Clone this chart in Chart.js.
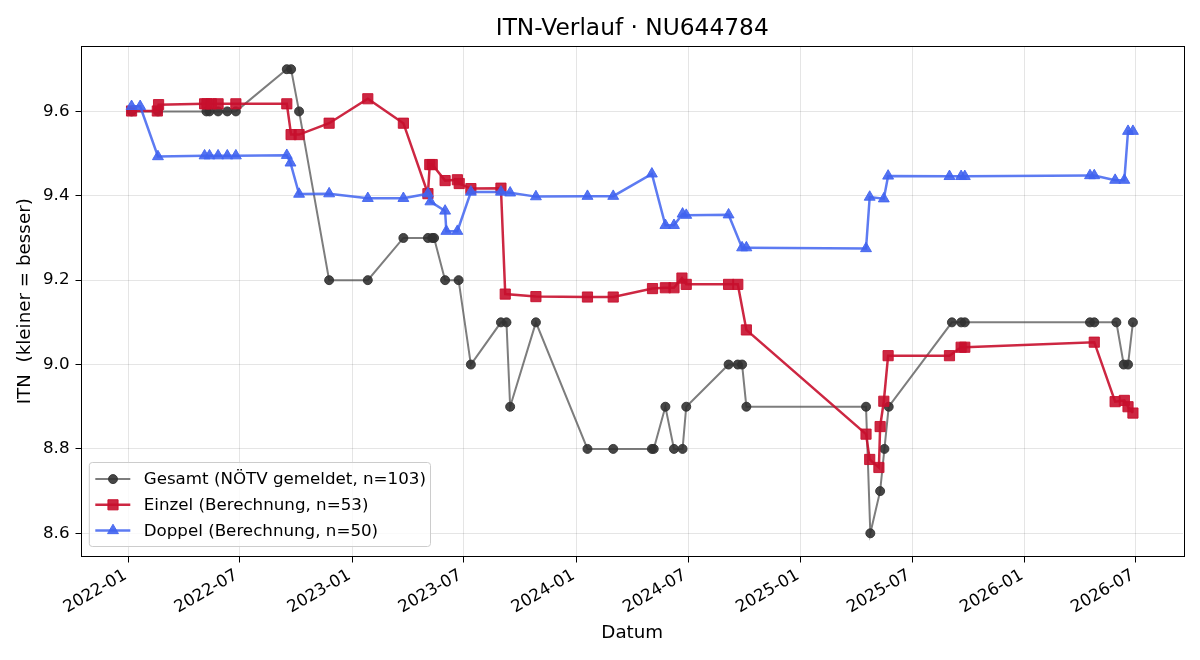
<!DOCTYPE html>
<html>
<head>
<meta charset="utf-8">
<title>ITN-Verlauf</title>
<script src="https://cdn.jsdelivr.net/npm/chart.js@4.4.1/dist/chart.umd.min.js"></script>
<style>
  html, body { margin: 0; padding: 0; background: #fff; }
  #wrap { width: 1200px; height: 660px; }
</style>
</head>
<body>
<div id="wrap"><canvas id="itnChart" width="1200" height="660"></canvas></div>
<script>
const chartTitle = "ITN-Verlauf · NU644784"
const xAxisLabel = "Datum"
const yAxisLabel = "ITN  (kleiner = besser)"
const xTickLabels = ["2022-01", "2022-07", "2023-01", "2023-07", "2024-01", "2024-07", "2025-01", "2025-07", "2026-01", "2026-07"]
const yTicks = [8.6, 8.8, 9.0, 9.2, 9.4, 9.6]

const seriesLabels = ["Gesamt (NÖTV gemeldet, n=103)", "Einzel (Berechnung, n=53)", "Doppel (Berechnung, n=50)"]

const gesamtDates = [
  "2022-01-06", "2022-02-18", "2022-05-08", "2022-05-13", "2022-05-27", "2022-06-11", "2022-06-25",
  "2022-09-16", "2022-09-23", "2022-10-06", "2022-11-24", "2023-01-26", "2023-03-25", "2023-05-04",
  "2023-05-11", "2023-05-14", "2023-06-01", "2023-06-23", "2023-07-13", "2023-08-31", "2023-09-09",
  "2023-09-15", "2023-10-27", "2024-01-19", "2024-03-01", "2024-05-03", "2024-05-06", "2024-05-25",
  "2024-06-08", "2024-06-22", "2024-06-28", "2024-09-05", "2024-09-20", "2024-09-27", "2024-10-04",
  "2025-04-17", "2025-04-24", "2025-05-10", "2025-05-17", "2025-05-24", "2025-09-04", "2025-09-19",
  "2025-09-25", "2026-04-17", "2026-04-24", "2026-05-30", "2026-06-11", "2026-06-18", "2026-06-26"
]
const gesamtValues = [
  9.6, 9.6, 9.6, 9.6, 9.6, 9.6, 9.6,
  9.7, 9.7, 9.6, 9.2, 9.2, 9.3, 9.3,
  9.3, 9.3, 9.2, 9.2, 9.0, 9.1, 9.1,
  8.9, 9.1, 8.8, 8.8, 8.8, 8.8, 8.9,
  8.8, 8.8, 8.9, 9.0, 9.0, 9.0, 8.9,
  8.9, 8.6, 8.7, 8.8, 8.9, 9.1, 9.1,
  9.1, 9.1, 9.1, 9.1, 9.0, 9.0, 9.1
]

const einzelDates = [
  "2022-01-06", "2022-02-17", "2022-02-19", "2022-05-05", "2022-05-09", "2022-05-16", "2022-05-27",
  "2022-06-25", "2022-09-16", "2022-09-23", "2022-10-06", "2022-11-24", "2023-01-26", "2023-03-25",
  "2023-05-04", "2023-05-07", "2023-05-11", "2023-06-01", "2023-06-21", "2023-06-24", "2023-07-13",
  "2023-08-31", "2023-09-07", "2023-10-27", "2024-01-19", "2024-03-01", "2024-05-04", "2024-05-25",
  "2024-06-08", "2024-06-21", "2024-06-28", "2024-09-05", "2024-09-20", "2024-10-04", "2025-04-17",
  "2025-04-23", "2025-05-08", "2025-05-10", "2025-05-16", "2025-05-23", "2025-08-31", "2025-09-19",
  "2025-09-25", "2026-04-24", "2026-05-28", "2026-06-12", "2026-06-18", "2026-06-26"
]
const einzelValues = [
  9.601, 9.601, 9.616, 9.618, 9.618, 9.618, 9.618,
  9.618, 9.618, 9.545, 9.545, 9.572, 9.630, 9.572,
  9.405, 9.474, 9.474, 9.436, 9.438, 9.429, 9.417,
  9.418, 9.167, 9.161, 9.160, 9.160, 9.180, 9.182,
  9.182, 9.205, 9.190, 9.190, 9.190, 9.082, 8.835,
  8.775, 8.756, 8.853, 8.913, 9.021, 9.021, 9.041,
  9.041, 9.053, 8.912, 8.915, 8.900, 8.885
]

const doppelDates = [
  "2022-01-06", "2022-01-20", "2022-02-18", "2022-05-05", "2022-05-13", "2022-05-27", "2022-06-11",
  "2022-06-25", "2022-09-16", "2022-09-22", "2022-10-06", "2022-11-24", "2023-01-26", "2023-03-25",
  "2023-05-04", "2023-05-08", "2023-06-01", "2023-06-03", "2023-06-21", "2023-07-13", "2023-08-31",
  "2023-09-15", "2023-10-27", "2024-01-19", "2024-03-01", "2024-05-03", "2024-05-25", "2024-06-08",
  "2024-06-22", "2024-06-28", "2024-09-05", "2024-09-27", "2024-10-04", "2025-04-17", "2025-04-23",
  "2025-05-16", "2025-05-23", "2025-08-31", "2025-09-19", "2025-09-25", "2026-04-17", "2026-04-24",
  "2026-05-28", "2026-06-12", "2026-06-18", "2026-06-26"
]
const doppelValues = [
  9.612, 9.612, 9.493, 9.495, 9.495, 9.495, 9.495,
  9.495, 9.496, 9.478, 9.404, 9.405, 9.394, 9.394,
  9.405, 9.386, 9.364, 9.316, 9.316, 9.409, 9.409,
  9.407, 9.398, 9.399, 9.399, 9.452, 9.330, 9.330,
  9.357, 9.354, 9.355, 9.277, 9.277, 9.275, 9.397,
  9.393, 9.447, 9.446, 9.446, 9.446, 9.448, 9.448,
  9.437, 9.437, 9.553, 9.553
]

const FONT = "'DejaVu Sans', 'Liberation Sans', sans-serif"

function toPoints(dates, values) {
  return dates.map((d, i) => ({ x: Date.parse(d), y: values[i] }))
}

// matplotlib-style 5% margins around the data
const allX = [...gesamtDates, ...einzelDates, ...doppelDates].map(d => Date.parse(d))
const allY = [...gesamtValues, ...einzelValues, ...doppelValues]
const xLo = Math.min(...allX), xHi = Math.max(...allX)
const yLo = Math.min(...allY), yHi = Math.max(...allY)
const xPad = (xHi - xLo) * 0.05
const yPad = (yHi - yLo) * 0.05

const datasets = [
  {
    label: seriesLabels[0],
    data: toPoints(gesamtDates, gesamtValues),
    borderColor: "rgba(70,70,70,0.7)",
    backgroundColor: "rgba(50,50,50,0.9)",
    pointBackgroundColor: "rgba(50,50,50,0.9)",
    pointBorderColor: "rgba(50,50,50,0.9)",
    borderWidth: 2,
    pointStyle: "circle",
    pointRadius: 4.5,
    order: 3
  },
  {
    label: seriesLabels[1],
    data: toPoints(einzelDates, einzelValues),
    borderColor: "rgba(200,16,46,0.9)",
    backgroundColor: "rgba(200,16,46,0.9)",
    pointBackgroundColor: "rgba(200,16,46,0.9)",
    pointBorderColor: "rgba(200,16,46,0.9)",
    borderWidth: 2.5,
    pointStyle: "rect",
    pointRadius: 7.2,
    order: 2
  },
  {
    label: seriesLabels[2],
    data: toPoints(doppelDates, doppelValues),
    borderColor: "rgba(65,100,240,0.85)",
    backgroundColor: "rgba(65,100,240,0.9)",
    pointBackgroundColor: "rgba(65,100,240,0.9)",
    pointBorderColor: "rgba(65,100,240,0.9)",
    borderWidth: 2.5,
    pointStyle: "triangle",
    pointRadius: 6.3,
    order: 1
  }
]
datasets.forEach(ds => {
  ds.fill = false
  ds.tension = 0
  ds.pointBorderWidth = 1
  ds.pointHoverRadius = ds.pointRadius
})

// frame around the plot area (all four spines)
const spinesPlugin = {
  id: "spines",
  afterDraw(chart) {
    const { ctx, chartArea: a } = chart
    ctx.save()
    ctx.strokeStyle = "#000"
    ctx.lineWidth = 1
    ctx.strokeRect(Math.round(a.left) - 0.5, Math.round(a.top) + 0.5, Math.round(a.right - a.left) + 1, Math.round(a.bottom - a.top) - 1)
    ctx.restore()
  }
}

// legend box in the lower left corner, inside the axes
const boxLegendPlugin = {
  id: "boxLegend",
  afterDraw(chart) {
    const { ctx, chartArea: a } = chart
    const ds = chart.data.datasets
    ctx.save()
    ctx.font = "16.7px " + FONT
    const textW = Math.max(...ds.map(d => ctx.measureText(d.label).width))
    const left = a.left + 7.8
    const bottom = a.bottom - 10
    const height = 84
    const top = bottom - height
    const width = 54.4 + textW + 4.6
    ctx.beginPath()
    ctx.roundRect(left, top, width, height, 3)
    ctx.fillStyle = "rgba(255,255,255,0.8)"
    ctx.fill()
    ctx.strokeStyle = "#cccccc"
    ctx.lineWidth = 1
    ctx.stroke()

    ds.forEach((d, i) => {
      const y = top + 16.6 + i * 25.7
      ctx.beginPath()
      ctx.moveTo(left + 6, y)
      ctx.lineTo(left + 41, y)
      ctx.strokeStyle = d.borderColor
      ctx.lineWidth = d.borderWidth
      ctx.stroke()
      ctx.fillStyle = d.pointBackgroundColor
      ctx.strokeStyle = d.pointBorderColor
      ctx.lineWidth = 1
      Chart.helpers.drawPoint(ctx, { pointStyle: d.pointStyle, radius: d.pointRadius, rotation: 0, borderWidth: 1 }, left + 23.7, y)
      ctx.fillStyle = "#000"
      ctx.textBaseline = "middle"
      ctx.textAlign = "left"
      ctx.fillText(d.label, left + 54.4, y + 1)
    })
    ctx.restore()
  }
}

const tickFont = { family: FONT, size: 16.7 }
const labelFont = { family: FONT, size: 18.3 }

new Chart(document.getElementById("itnChart"), {
  type: "line",
  data: { datasets: datasets },
  plugins: [spinesPlugin, boxLegendPlugin],
  options: {
    responsive: false,
    animation: false,
    devicePixelRatio: 1,
    parsing: false,
    layout: { padding: { top: 0, right: 17, bottom: 0, left: 0 } },
    plugins: {
      legend: { display: false },
      tooltip: { enabled: false },
      title: { display: false }
    },
    scales: {
      x: {
        type: "linear",
        position: "bottom",
        min: xLo - xPad,
        max: xHi + xPad,
        afterBuildTicks: scale => {
          scale.ticks = xTickLabels.map(l => ({ value: Date.parse(l + "-01") }))
        },
        afterFit: scale => { scale.height = 103.5 },
        ticks: {
          autoSkip: false,
          minRotation: 30,
          maxRotation: 30,
          padding: 3,
          labelOffset: -3,
          color: "#000",
          font: tickFont,
          callback: (value, index) => xTickLabels[index]
        },
        grid: { color: "rgba(0,0,0,0.1)", lineWidth: 1, tickColor: "#000", tickLength: 6 },
        border: { display: false },
        title: {
          display: true,
          text: xAxisLabel,
          color: "#000",
          font: labelFont,
          padding: { top: 0, bottom: 16 }
        }
      },
      xTop: {
        type: "linear",
        position: "top",
        min: 0,
        max: 1,
        ticks: { display: false },
        grid: { display: false, drawTicks: false },
        border: { display: false },
        afterFit: scale => { scale.height = 46 },
        title: {
          display: true,
          text: chartTitle,
          color: "#000",
          font: { family: FONT, size: 23.3 },
          padding: { top: 14.5, bottom: 0 }
        }
      },
      y: {
        type: "linear",
        position: "left",
        min: yLo - yPad,
        max: yHi + yPad,
        afterBuildTicks: scale => {
          scale.ticks = yTicks.map(v => ({ value: v }))
        },
        afterFit: scale => { scale.width = 81.5 },
        ticks: {
          padding: 6,
          color: "#000",
          font: tickFont,
          callback: value => value.toFixed(1)
        },
        grid: { color: "rgba(0,0,0,0.1)", lineWidth: 1, tickColor: "#000", tickLength: 6 },
        border: { display: false },
        title: {
          display: true,
          text: yAxisLabel,
          color: "#000",
          font: labelFont,
          padding: { top: 14, bottom: 0 }
        }
      }
    }
  }
})
</script>
</body>
</html>
